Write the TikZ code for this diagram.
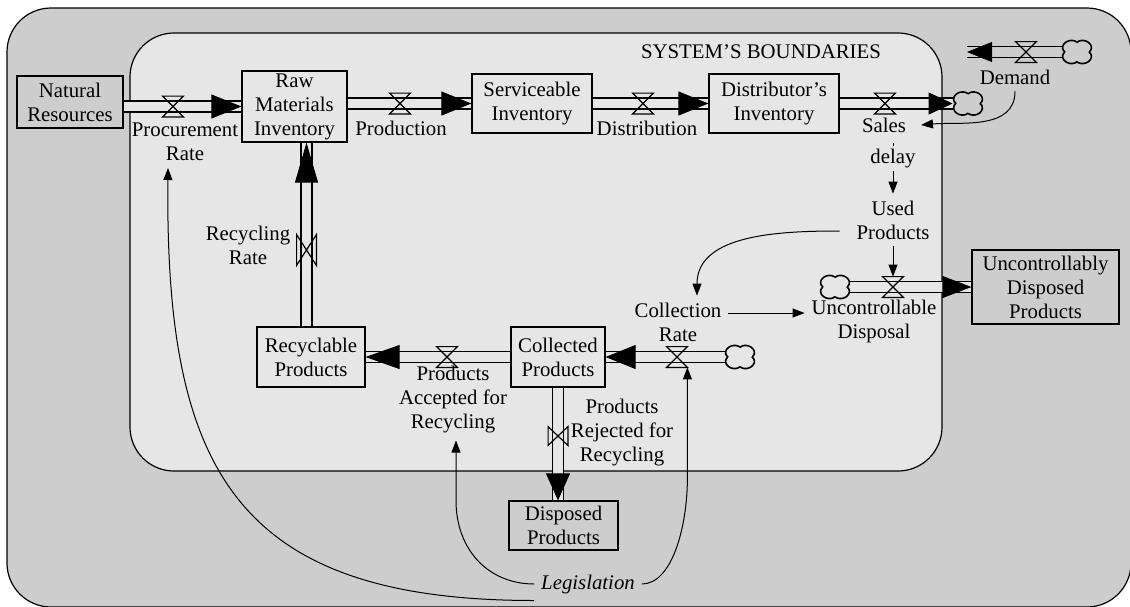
\documentclass[tikz,border=0pt]{standalone}
\usepackage{fontspec}
\setmainfont{Liberation Serif}
\usetikzlibrary{arrows.meta}
\definecolor{outerbg}{HTML}{CDCDCD}
\definecolor{innerbg}{HTML}{E6E6E6}

\begin{document}
\begin{tikzpicture}[x=0.5pt, y=-0.5pt,
  every node/.style={font=\fontsize{10.4}{12}\selectfont, align=center},
  stock/.style={draw, line width=0.6pt, inner sep=1pt},
  valve/.style={minimum width=10pt, minimum height=10pt, inner sep=0pt},
  vvalve/.style={minimum width=9.5pt, minimum height=15pt, inner sep=0pt},
  sink/.style={minimum width=15pt, minimum height=11pt, inner sep=0pt},
  pipe/.style={double=innerbg, double distance=4.75pt, line width=0.75pt},
  flowhead/.style={-{Triangle[length=15pt,width=12pt]}, line width=0.4pt},
  info/.style={-{Triangle[length=6pt,width=4.5pt]}, line width=0.5pt}]

% boundaries
  \useasboundingbox (0,0) rectangle (1130,606);
  \draw[fill=outerbg, line width=0.6pt, rounded corners=22pt] (7,8) rectangle (1131,607);
  \draw[fill=innerbg, line width=0.6pt, rounded corners=22pt] (130,33) rectangle (942,471);
  \node (bound) at (761,52) {SYSTEM’S BOUNDARIES};

% define the stocks
  \node[stock, minimum width=53pt, minimum height=26pt]     (nr)   at (70,102)     {Natural\\Resources};
  \node[stock, minimum width=52.5pt, minimum height=35.5pt] (raw)  at (294.5,106.5) {Raw\\Materials\\Inventory};
  \node[stock, minimum width=60pt, minimum height=29.5pt]   (svc)  at (532,103.5)  {Serviceable\\Inventory};
  \node[stock, minimum width=65pt, minimum height=29.5pt]   (dist) at (774,103.5)  {Distributor’s\\Inventory};
  \node[stock, minimum width=73.5pt, minimum height=37pt]   (udp)  at (1045.5,287) {Uncontrollably\\Disposed\\Products};
  \node[stock, minimum width=54pt, minimum height=30pt]     (rec)  at (311,357)    {Recyclable\\Products};
  \node[stock, minimum width=47pt, minimum height=30pt]     (col)  at (558,357)    {Collected\\Products};
  \node[stock, minimum width=54.5pt, minimum height=24.5pt] (disp) at (563.5,525.5) {Disposed\\Products};

% sources and sinks
  \node[sink] (cl1) at (968,103.5) {};
  \node[sink] (cl2) at (1077,52) {};
  \node[sink] (cl3) at (835,287) {};
  \node[sink] (cl4) at (740,357) {};

% define the valves
  \node[valve]  (vproc)  at (173,106.5) {};
  \node[valve]  (vprod)  at (400,103.5) {};
  \node[valve]  (vdist)  at (643,103.5) {};
  \node[valve]  (vsales) at (885,103.5) {};
  \node[valve]  (vdem)   at (1026,52)   {};
  \node[valve]  (vunc)   at (893,287)   {};
  \node[valve]  (vcol)   at (677,357)   {};
  \node[valve]  (vacc)   at (447,357)   {};
  \node[vvalve] (vrec)   at (306.5,250) {};
  \node[vvalve, minimum height=9pt] (vrej) at (558,436) {};

% rate and auxiliary labels
  \node (procrate) at (185,142)  {Procurement\\Rate};
  \node (prodlab)  at (401,128)  {Production};
  \node (distlab)  at (647,128)  {Distribution};
  \node (sales)    at (884,125)  {Sales};
  \node (demand)   at (1015,77)  {Demand};
  \node (used)     at (893,220)  {Used\\Products};
  \node (uncdisp)  at (874,321)  {Uncontrollable\\Disposal};
  \node (colrate)  at (678,322)  {Collection\\Rate};
  \node (recrate)  at (248,245)  {Recycling\\Rate};
  \node (accepted) at (453,400)  {Products\\Accepted for\\Recycling};
  \node (rejected) at (622,433)  {Products\\Rejected for\\Recycling};
  \node (legis)    at (588,584)  {\textit{Legislation}};

  \coordinate (dtip)   at (967,52);
  \coordinate (recbot) at (rec.north -| vrec);
  \coordinate (rectop) at (raw.south -| vrec);
  \coordinate (rejtop) at (col.south);
  \coordinate (rejbot) at (disp.north -| col.south);

% define the flows
  \draw[pipe] (nr.east |- raw.west) -- (raw.west);
  \draw[pipe] (raw.east |- svc.west) -- (svc.west);
  \draw[pipe] (svc.east) -- (dist.west);
  \draw[pipe] (dist.east) -- (cl1.west);
  \draw[pipe, double=outerbg] (cl2.west) -- (dtip);
  \draw[pipe] (cl3.east) -- (udp.west);
  \draw[pipe] (cl4.west) -- (col.east);
  \draw[pipe] (col.west) -- (rec.east);
  \draw[pipe] (recbot) -- (rectop);
  \draw[pipe] (rejtop) -- (rejbot);

  \draw[flowhead] ([xshift=-1pt]raw.west) -- (raw.west);
  \draw[flowhead] ([xshift=-1pt]svc.west) -- (svc.west);
  \draw[flowhead] ([xshift=-1pt]dist.west) -- (dist.west);
  \draw[flowhead, -{Triangle[length=12pt,width=11pt]}] ([xshift=-1pt]cl1.west) -- (cl1.west);
  \draw[flowhead, -{Triangle[length=12.5pt,width=10pt]}] ([xshift=1pt]dtip) -- (dtip);
  \draw[flowhead, -{Triangle[length=14.5pt,width=11pt]}] ([xshift=-1pt]udp.west) -- (udp.west);
  \draw[flowhead] ([xshift=1pt]col.east) -- (col.east);
  \draw[flowhead, -{Triangle[length=17pt,width=12pt]}] ([xshift=1pt]rec.east) -- (rec.east);
  \draw[flowhead, -{Triangle[length=20pt,width=11.5pt]}] ([yshift=-1pt]rectop) -- (rectop);
  \draw[flowhead, -{Triangle[length=13.5pt,width=12pt]}] ([yshift=1pt]rejbot) -- (rejbot);

  \foreach \v in {vproc,vprod,vdist,vsales,vdem,vunc,vcol,vacc}
    \draw[line width=0.6pt] (\v.north west) -- (\v.north east) -- (\v.south west) -- (\v.south east) -- cycle;
  \foreach \v in {vrec,vrej}
    \draw[line width=0.6pt] (\v.north west) -- (\v.south west) -- (\v.north east) -- (\v.south east) -- cycle;

  % cloud outlines
  \foreach \c/\bg in {cl1/outerbg, cl2/outerbg, cl3/innerbg, cl4/innerbg}
    \draw[line width=0.8pt, fill=\bg, shift={(\c)}] plot[domain=2:356, samples=60, smooth cycle]
      ({1.18*(9.5+4.5*pow(abs(sin(2*\x)),0.6))*cos(\x)}, {0.95*(9.5+4.5*pow(abs(sin(2*\x)),0.6))*sin(\x)});

% define the links
  \draw[info] (demand.south) to[out=-90, in=5] ([xshift=4pt]sales.east);
  \draw[info, shorten <=2pt] (sales.south -| used.north) -- node[pos=0.36, fill=innerbg, inner sep=1.5pt] {delay} (used.north);
  \draw[info] (used.south) -- (vunc.north);
  \draw[info] ([xshift=-5pt, yshift=-5.5pt]used.west) to[out=180, in=90] ([xshift=9.5pt]colrate.north);
  \draw[info] (colrate.east) ++(0,-9) coordinate (crs) -- (uncdisp.west |- crs);
  \draw[info] (legis.east) .. controls +(30,0) and +(0,50) .. ([yshift=-55pt]vcol.south east) -- (vcol.south east);
  \draw[info] (legis.west) .. controls +(-45,0) and +(0,50) .. ([xshift=1.5pt, yshift=-30pt]accepted.south) -- ([xshift=1.5pt]accepted.south);
  \draw[info] (legis.south west) .. controls +(-300,0) and +(-3,300) .. ([xshift=-8.5pt]procrate.south);

\end{tikzpicture}
\end{document}
